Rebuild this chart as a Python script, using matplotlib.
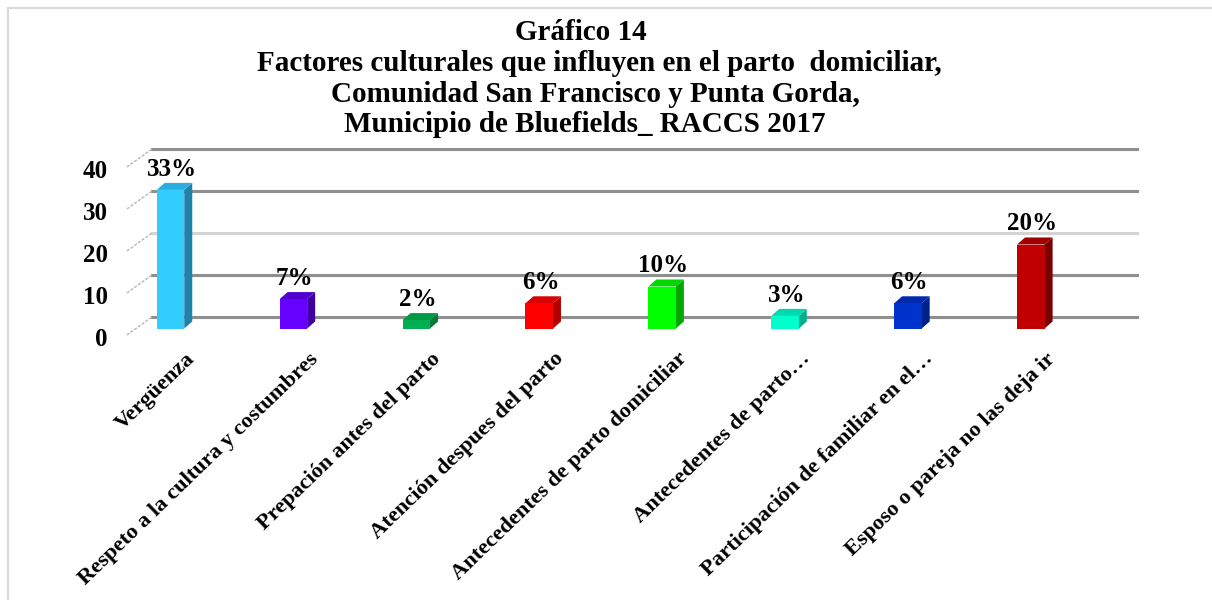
import matplotlib
matplotlib.use("Agg")
import matplotlib.pyplot as plt
from matplotlib.patches import Polygon, Rectangle

# datos
categorias = ["Vergüenza", "Respeto a la cultura y costumbres", "Prepación antes del parto",
              "Atención despues del parto", "Antecedentes de parto domiciliar",
              "Antecedentes de parto…", "Participación de familiar en el…",
              "Esposo o pareja no las deja ir"]
valores = [33, 7, 2, 6, 10, 3, 6, 20]
etiquetas = ["33%", "7%", "2%", "6%", "10%", "3%", "6%", "20%"]
y_ticks = [0, 10, 20, 30, 40]
titulo = ["Gráfico 14",
          "Factores culturales que influyen en el parto  domiciliar,",
          "Comunidad San Francisco y Punta Gorda,",
          "Municipio de Bluefields_ RACCS 2017"]

frente = ["#33CCFF", "#6600FF", "#00B050", "#FF0000", "#00FF00", "#00FFCC", "#0033CC", "#C00000"]
lado = ["#1F82A8", "#3F00A0", "#007A36", "#B00000", "#00A800", "#00B08C", "#00208A", "#780000"]
arriba = ["#2AAEDD", "#5200D0", "#009944", "#D80000", "#00D800", "#00D8B0", "#0029B0", "#A00000"]

fuente = "Liberation Serif"
plt.rcParams['font.family'] = [fuente, 'DejaVu Serif']
plt.rcParams['font.weight'] = 'bold'

fig = plt.figure(figsize=(12.12, 6.0), dpi=100)
fig.patch.set_facecolor("white")

# marco gris claro
fig.patches.append(Rectangle((8 / 1212, -0.1), 1.2, (600 - 8) / 600 + 0.1,
                             transform=fig.transFigure, fill=False,
                             edgecolor="#d9d9d9", lw=1.6))

ax = fig.add_axes([0.1001, 0.4175, 0.8417, 0.35])
ax.set_xlim(-0.4, 7.9)
ax.set_ylim(-5, 45)
ax.axis("off")

ancho = 0.224
dx = 0.065
dy = 1.67
fondo_dy = 2.74

# lineas de la pared del fondo
for v in y_ticks:
    col = "#d4d4d4" if v == 20 else "#8f8f8f"
    ax.plot([-0.15, 7.86], [v + fondo_dy - 0.35, v + fondo_dy - 0.35], color="#e3e3e3",
            lw=1.6, zorder=1, clip_on=False)
    ax.plot([-0.15, 7.86], [v + fondo_dy, v + fondo_dy], color=col, lw=2.2,
            zorder=2, clip_on=False)
    ax.plot([-0.355, -0.15], [v - 1.55, v + fondo_dy], color="#bdbdbd", lw=1.1,
            ls=(0, (2, 1)), zorder=2, clip_on=False)
    ax.text(-0.509, v - 2.5, str(v), ha="right", va="center", fontsize=18,
            fontweight="bold", clip_on=False)

# barras 3d
for i, v in enumerate(valores):
    x0 = i - ancho / 2
    x1 = i + ancho / 2
    ax.add_patch(Polygon([(x1, 0), (x1 + dx, dy), (x1 + dx, v + dy), (x1, v)],
                         closed=True, facecolor=lado[i], edgecolor="none", zorder=4))
    ax.add_patch(Polygon([(x0, v), (x1, v), (x1 + dx, v + dy), (x0 + dx, v + dy)],
                         closed=True, facecolor=arriba[i], edgecolor="none", zorder=4))
    ax.add_patch(Rectangle((x0, 0), ancho, v, facecolor=frente[i], edgecolor="none", zorder=5))
    ax.text(i + 0.01, v + 4.9, etiquetas[i], ha="center", va="center", fontsize=18,
            fontweight="bold", zorder=6, clip_on=False)
    ax.text(i + 0.205, -7.4, categorias[i], rotation=44, rotation_mode="anchor",
            ha="right", va="baseline", fontsize=16.2, fontweight="bold", clip_on=False)

# titulo
centros_x = [581, 599, 595, 585]
for k, linea in enumerate(titulo):
    fig.text(centros_x[k] / 1212, 1 - (33 + 30.5 * k) / 600, linea, ha="center",
             va="center", fontsize=21, fontweight="bold")

fig.savefig("out.png", dpi=100)
